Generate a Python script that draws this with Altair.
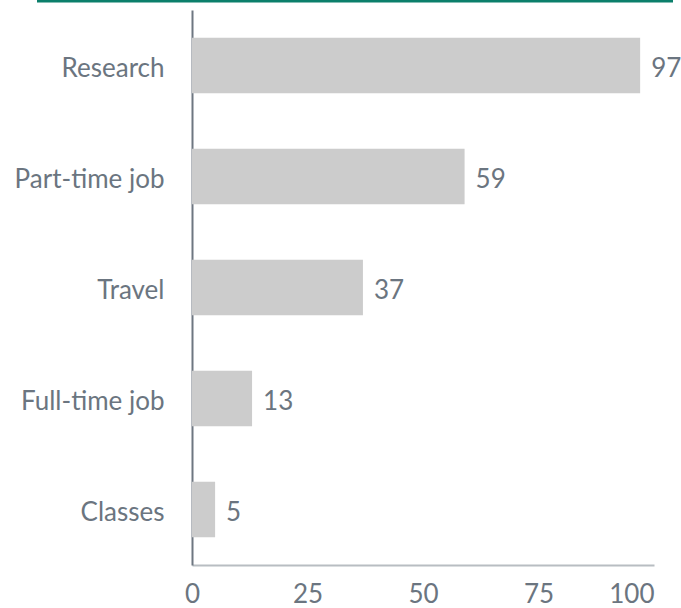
import altair as alt
import pandas as pd

categories = ["Research", "Part-time job", "Travel", "Full-time job", "Classes"]
values = [97, 59, 37, 13, 5]
x_ticks = [0, 25, 50, 75, 100]

df = pd.DataFrame({"category": categories, "value": values})

FONT = "Lato"
TXT = "#6b7580"
FS = 26

base = alt.Chart(df)

bars = base.mark_bar(color="#cccccc").encode(
    x=alt.X("value:Q", scale=alt.Scale(domain=[0, 100], nice=False),
            axis=alt.Axis(values=x_ticks, title=None, grid=False, ticks=False,
                          domainColor="#b8bdc2", domainWidth=2, labelFontSize=FS,
                          labelColor=TXT, labelFont=FONT, labelPadding=16,
                          labelAlign=alt.expr("datum.value == 100 ? 'right' : 'center'"))),
    y=alt.Y("category:N", sort=categories,
            scale=alt.Scale(paddingInner=0.5, paddingOuter=0.25),
            axis=alt.Axis(title=None, ticks=False, domainColor="#6e7781", domainWidth=2,
                          labelFontSize=FS, labelColor=TXT, labelFont=FONT,
                          labelPadding=28, labelOffset=3)),
)

labels = base.mark_text(align="left", baseline="middle", dx=11, dy=3, fontSize=FS,
                        font=FONT, color=TXT).encode(
    x="value:Q",
    y=alt.Y("category:N", sort=categories),
    text="value:Q",
)

topline = alt.Chart(pd.DataFrame({"a": [0]})).mark_rule(color="#0b7f6b", strokeWidth=3).encode(
    x=alt.value(-155), x2=alt.value(481), y=alt.value(-9)
)

chart = (bars + labels + topline).properties(
    width=462, height=555,
    padding={"left": 192, "top": 10, "right": 27, "bottom": 43},
    autosize=alt.AutoSizeParams(type="none"),
).configure_view(stroke=None)

chart.save("out.html", embed_options={"renderer": "svg", "actions": False})
